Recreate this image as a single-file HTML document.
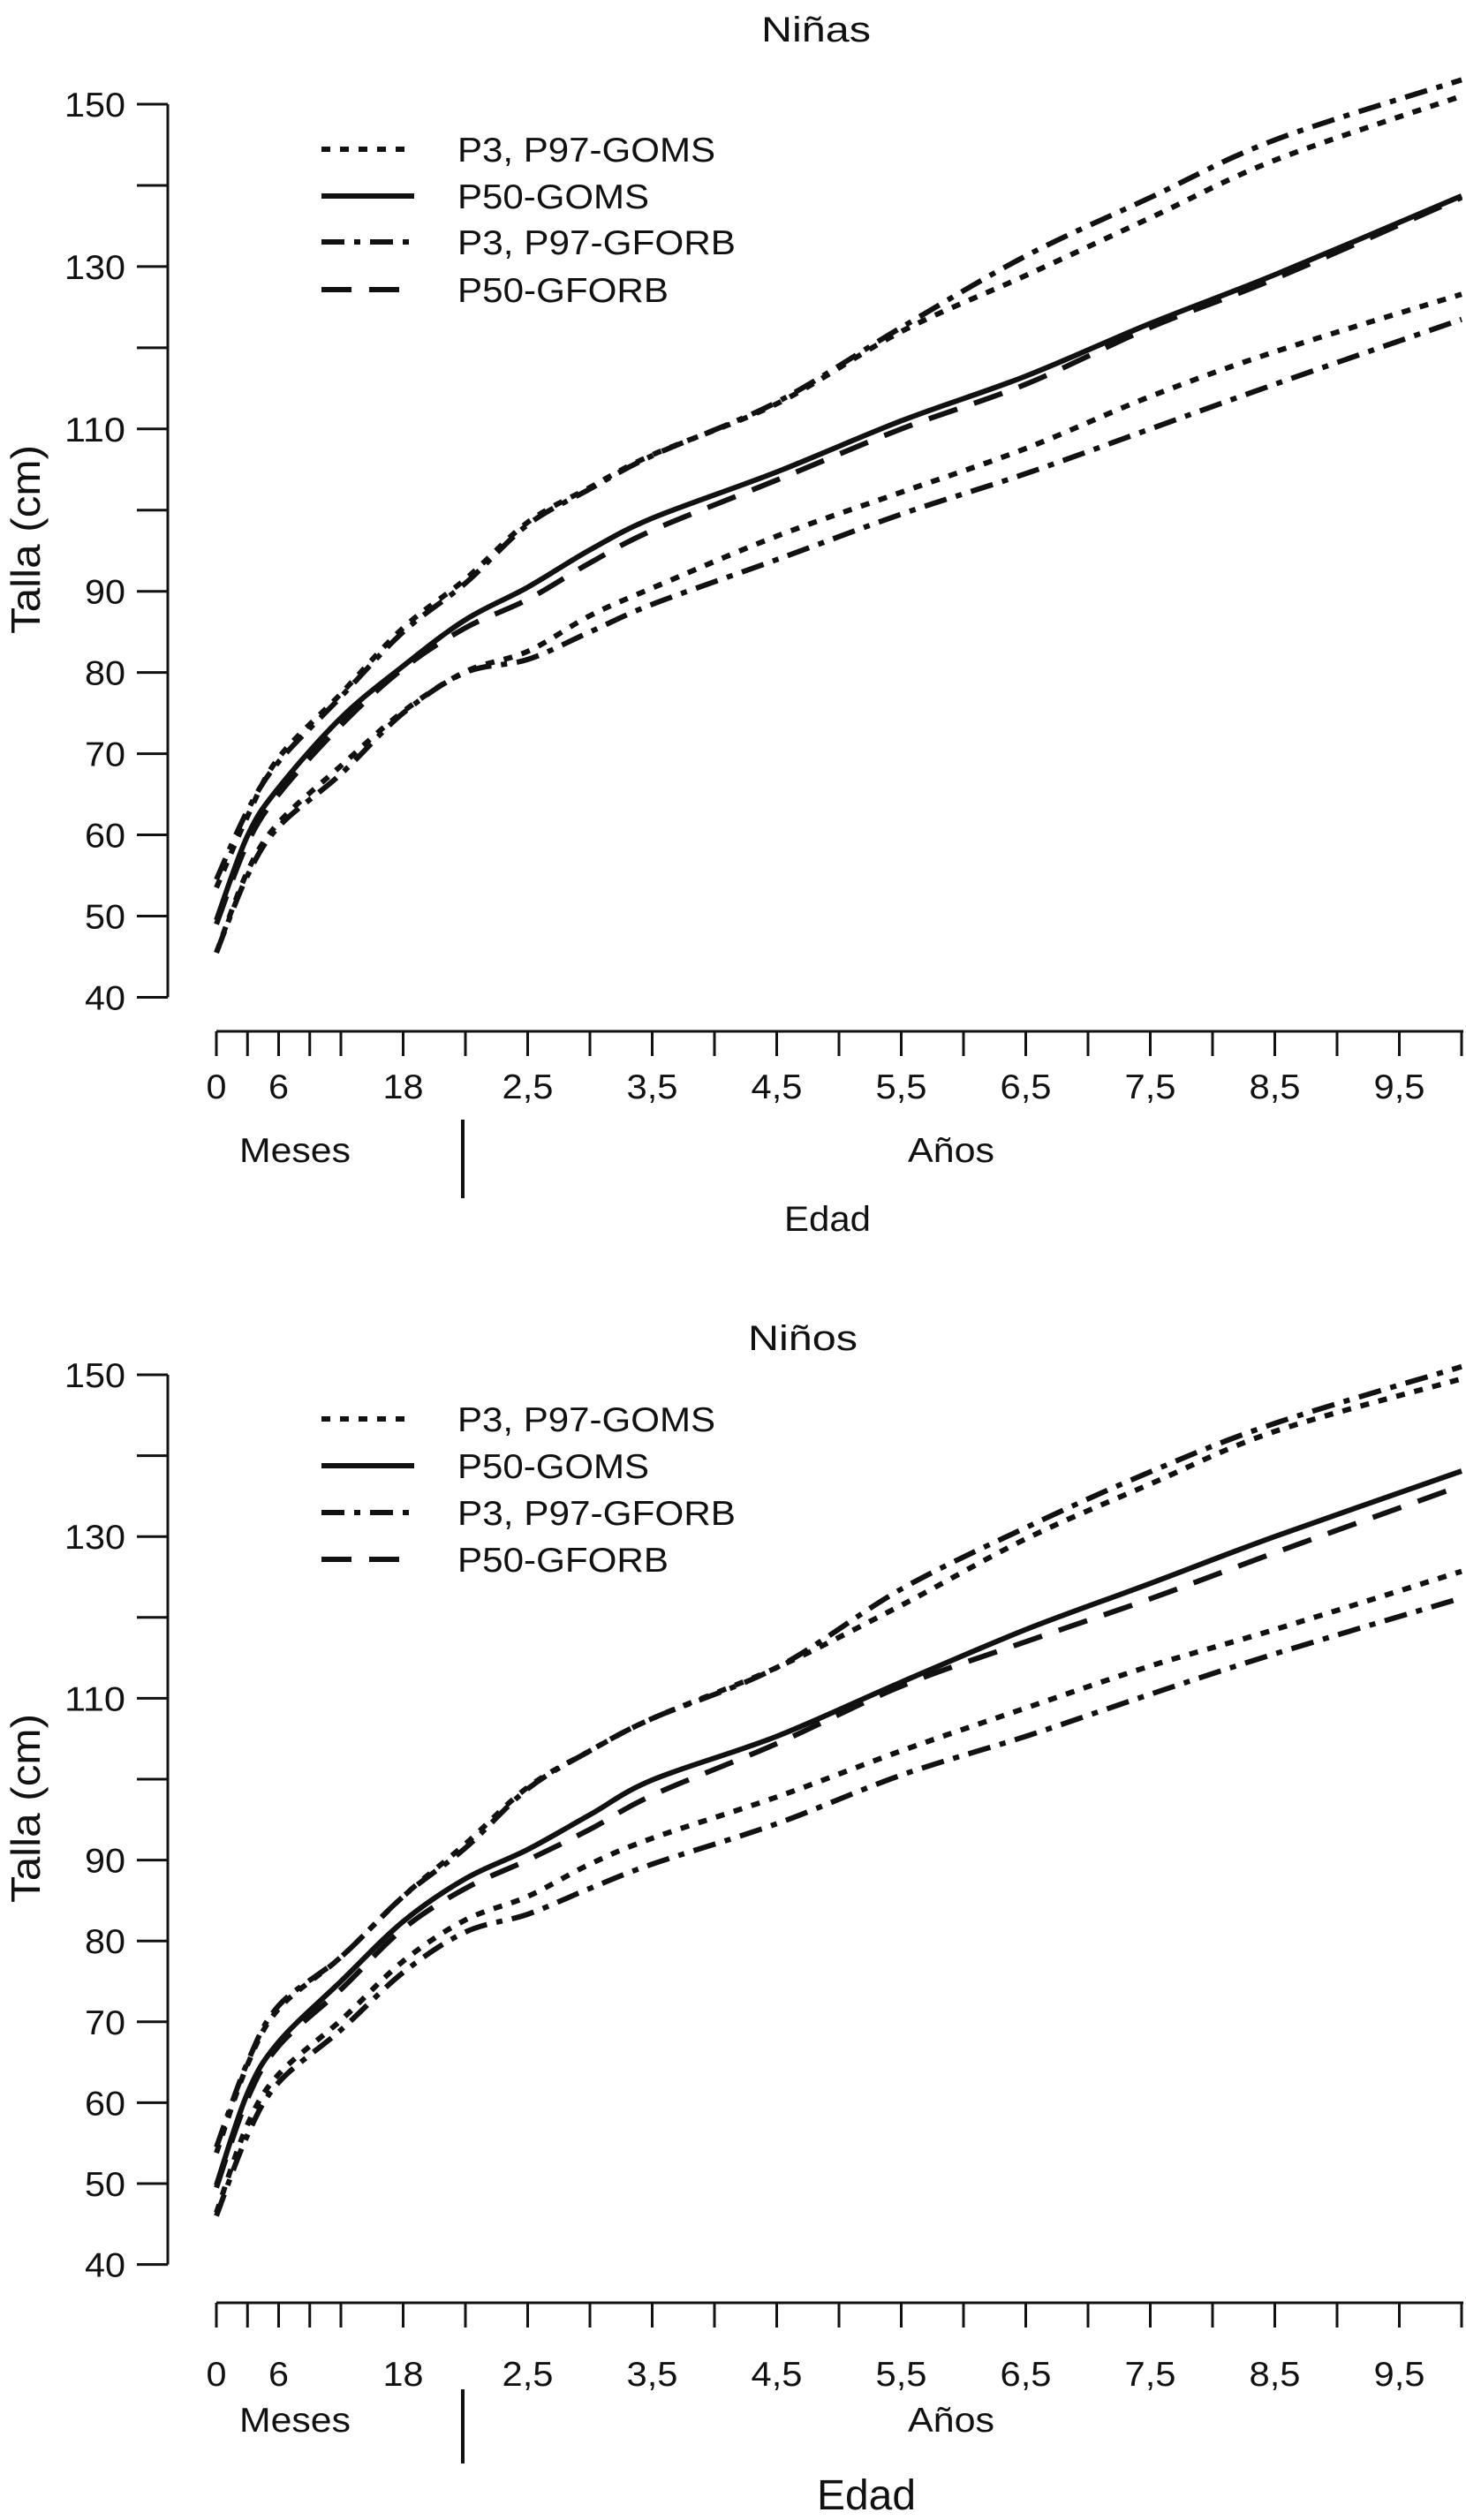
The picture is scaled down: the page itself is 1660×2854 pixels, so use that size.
<!DOCTYPE html>
<html><head><meta charset="utf-8"><style>
html,body{margin:0;padding:0;background:#fff}
svg{display:block}
text{font-family:"Liberation Sans",sans-serif;fill:#111}
</style></head><body>
<svg id="svg" width="1660" height="2854" viewBox="0 0 1660 2854" xmlns="http://www.w3.org/2000/svg"></svg>
<script>
// ages in years
const ages = [0,0.25,0.5,1,1.5,2,2.5,3,3.5,4.5,5.5,6.5,7.5,8.5,10];
// Niñas
const girlsP97Goms  = [53.5,62.3,69.5,77.4,85.5,91.5,98.5,102.8,106.8,113.1,122,128.9,136,143.1,151];
const girlsP3Goms   = [45.5,55.5,61.5,68.5,75.2,80.1,82.6,87,90.4,96.8,102.2,107.6,114,119.5,126.6];
const girlsP50Goms  = [49.5,59.9,65.8,74.4,80.8,86.5,90.5,95.1,99,104.7,111,116.5,123,129,138.7];
const girlsP97Gforb = [54.5,63,69,77,85,91,98.2,102.6,106.7,113.3,122.5,131.3,138.5,145.6,153];
const girlsP3Gforb  = [45.5,55,61,67.5,75,80,81.6,85,88.4,93.9,99.5,104.5,110,115.5,123.5];
const girlsP50Gforb = [49,59,65,73.5,80.5,85.5,89,93.5,97.5,103.7,110,115.5,122.5,128.5,138.5];
// Niños
const boysP97Goms  = [53.8,64.7,71.6,78,85.5,92,99,103.5,107.5,113.8,121.5,129.7,136.5,143,149.5];
const boysP3Goms   = [46.4,57.3,63.5,70.2,77.5,82.6,85.5,89.5,92.7,97.8,103.5,108.8,114,118.5,125.7];
const boysP50Goms  = [49.8,61.2,67.5,75,82.4,87.7,91.3,95.6,99.9,105.3,112,118.5,124.2,130,138.1];
const boysP97Gforb = [54.5,65,72,78,85.5,91.5,98.8,103.5,107.5,113.8,123.5,131.1,138,144,151];
const boysP3Gforb  = [46,56,62.5,69,76.1,81.1,83.3,86.5,89.5,94.5,100.5,105.3,110.5,115.5,122.4];
const boysP50Gforb = [49.5,60.5,67,74,81.5,86.5,90,93.8,98,104.4,111.5,117,122.3,128,136.3];
const yTicks = [150,140,130,120,110,100,90,80,70,60,50,40];
const yLabels = ["150","","130","","110","","90","80","70","60","50","40"];
const xTickAges = [0,0.25,0.5,0.75,1,1.5,2,2.5,3,3.5,4,4.5,5,5.5,6,6.5,7,7.5,8,8.5,9,9.5,10];
const xTickLabels = {"0":"0","0.5":"6","1.5":"18","2.5":"2,5","3.5":"3,5","4.5":"4,5","5.5":"5,5","6.5":"6,5","7.5":"7,5","8.5":"8,5","9.5":"9,5"};

const NS="http://www.w3.org/2000/svg";
const svg=document.getElementById('svg');
function el(tag,attrs,parent){const e=document.createElementNS(NS,tag);for(const k in attrs)e.setAttribute(k,attrs[k]);(parent||svg).appendChild(e);return e;}
function txt(s,attrs,parent){const t=el('text',attrs,parent);t.textContent=s;return t;}
function labW(s){let w=0;for(const c of s)w+=(c===','?12:23);return w;}

const styles={dot:"10 11",solid:"",dashdot:"26 11 7 11",dash:"34 20"};

function smoothPath(P){
  let d=`M${P[0][0].toFixed(1)},${P[0][1].toFixed(1)}`;
  for(let i=0;i<P.length-1;i++){
    const p0=P[i-1]||P[i],p1=P[i],p2=P[i+1],p3=P[i+2]||P[i+1];
    const c1=[p1[0]+(p2[0]-p0[0])/6,p1[1]+(p2[1]-p0[1])/6];
    const c2=[p2[0]-(p3[0]-p1[0])/6,p2[1]-(p3[1]-p1[1])/6];
    d+=` C${c1[0].toFixed(1)},${c1[1].toFixed(1)} ${c2[0].toFixed(1)},${c2[1].toFixed(1)} ${p2[0].toFixed(1)},${p2[1].toFixed(1)}`;
  }
  return d;
}

function chart(cfg){
  const g=el('g',{});
  
  
  const x=a=>245+a*141;
  const y=v=>cfg.y150+(150-v)*cfg.k;
  const tt=txt(cfg.title,{x:cfg.titleX,y:cfg.titleY,'font-size':40,textLength:124,lengthAdjust:'spacingAndGlyphs'},g);
  
  const ya=el('line',{x1:190,y1:y(150),x2:190,y2:y(40),stroke:'#111','stroke-width':3},g);
  
  yTicks.forEach((v,i)=>{
    const tk=el('line',{x1:155,x2:190,y1:y(v),y2:y(v),stroke:'#111','stroke-width':3},g);
    
    if(yLabels[i]){const l=txt(yLabels[i],{x:142,y:y(v)+14,'font-size':39,'text-anchor':'end',textLength:labW(yLabels[i]),lengthAdjust:'spacingAndGlyphs'},g);
      }
  });
  const yl=txt('Talla (cm)',{x:0,y:0,'font-size':46,'text-anchor':'middle',textLength:214,lengthAdjust:'spacingAndGlyphs',transform:`translate(45,${cfg.ylabY}) rotate(-90)`},g);
  
  const xa=el('line',{x1:x(0),x2:x(10)+2,y1:cfg.xAxisY,y2:cfg.xAxisY,stroke:'#111','stroke-width':3},g);
  
  xTickAges.forEach(a=>{
    const tk=el('line',{x1:x(a),x2:x(a),y1:cfg.xAxisY,y2:cfg.xAxisY+28,stroke:'#111','stroke-width':3},g);
    
    const lab=xTickLabels[String(a)];
    if(lab){const l=txt(lab,{x:x(a),y:cfg.tickLabY+14,'font-size':39,'text-anchor':'middle',textLength:labW(lab),lengthAdjust:'spacingAndGlyphs'},g);
      }
  });
  const m=txt('Meses',{x:271,y:cfg.unitY+14,'font-size':39,textLength:126,lengthAdjust:'spacingAndGlyphs'},g);
  
  const an=txt('Años',{x:1028,y:cfg.unitY+14,'font-size':39,textLength:98,lengthAdjust:'spacingAndGlyphs'},g);
  
  const sep=el('line',{x1:524,x2:524,y1:cfg.sepY1,y2:cfg.sepY2,stroke:'#111','stroke-width':4},g);
  
  const ed=txt('Edad',{x:cfg.edadX,y:cfg.edadY,'font-size':cfg.edadSize,textLength:cfg.edadW,lengthAdjust:'spacingAndGlyphs'},g);
  
  cfg.series.forEach(s=>{
    const P=ages.map((a,i)=>[x(a),y(s.vals[i])]);
    const p=el('path',{d:smoothPath(P),fill:'none',stroke:'#111','stroke-width':6,'stroke-linejoin':'round','stroke-dasharray':styles[s.style]||'none'},g);
    
  });
  const leg=[["P3, P97-GOMS","dot",292],["P50-GOMS","solid",217],["P3, P97-GFORB","dashdot",315],["P50-GFORB","dash",239]];
  leg.forEach((L,i)=>{
    const ly=cfg.legY[i];
    const ln=el('line',{x1:364,x2:469,y1:ly,y2:ly,stroke:'#111','stroke-width':6,'stroke-dasharray':styles[L[1]]||'none'},g);
    
    const t=txt(L[0],{x:518,y:ly+14,'font-size':39,textLength:L[2],lengthAdjust:'spacingAndGlyphs'},g);
    
  });
}

chart({name:'girls-chart',title:'Niñas',titleX:862,titleY:47,y150:118,k:9.195,ylabY:611,xAxisY:1168,tickLabY:1230,unitY:1302,sepY1:1268,sepY2:1357,edadX:888,edadY:1394,edadSize:40,edadW:98,
  legY:[169,222,274,328],
  series:[
    {name:'girls-p97-goms',vals:girlsP97Goms,style:'dot'},
    {name:'girls-p3-goms',vals:girlsP3Goms,style:'dot'},
    {name:'girls-p50-goms',vals:girlsP50Goms,style:'solid'},
    {name:'girls-p97-gforb',vals:girlsP97Gforb,style:'dashdot'},
    {name:'girls-p3-gforb',vals:girlsP3Gforb,style:'dashdot'},
    {name:'girls-p50-gforb',vals:girlsP50Gforb,style:'dash'}
  ]});
chart({name:'boys-chart',title:'Niños',titleX:847,titleY:1529,y150:1557,k:9.16,ylabY:2048,xAxisY:2608,tickLabY:2688,unitY:2740,sepY1:2706,sepY2:2790,edadX:925,edadY:2842,edadSize:48,edadW:112,
  legY:[1607,1660,1713,1766],
  series:[
    {name:'boys-p97-goms',vals:boysP97Goms,style:'dot'},
    {name:'boys-p3-goms',vals:boysP3Goms,style:'dot'},
    {name:'boys-p50-goms',vals:boysP50Goms,style:'solid'},
    {name:'boys-p97-gforb',vals:boysP97Gforb,style:'dashdot'},
    {name:'boys-p3-gforb',vals:boysP3Gforb,style:'dashdot'},
    {name:'boys-p50-gforb',vals:boysP50Gforb,style:'dash'}
  ]});
</script>
</body></html>
